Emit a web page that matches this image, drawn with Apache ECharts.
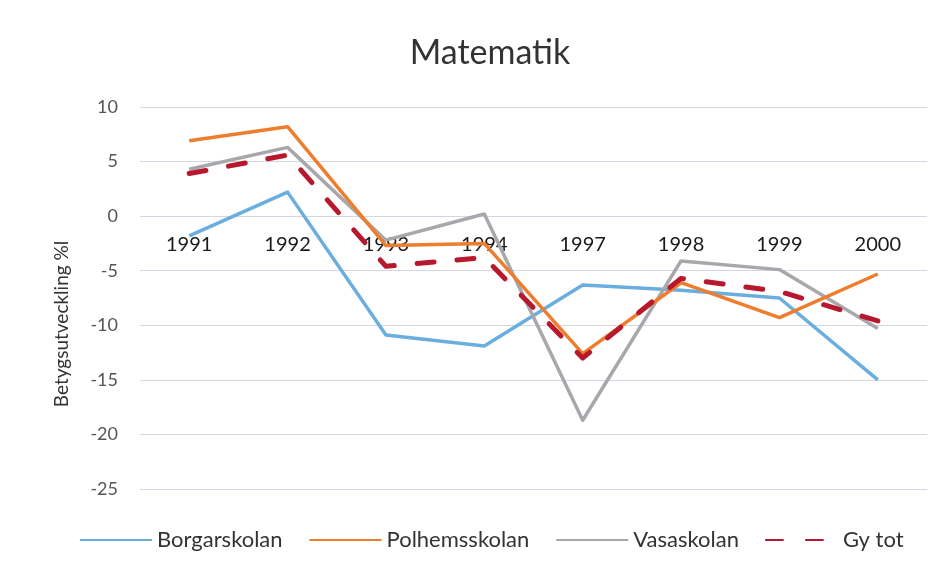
<!DOCTYPE html>
<html>
<head>
<meta charset="utf-8">
<script src="https://cdn.jsdelivr.net/npm/echarts@6/dist/echarts.min.js"></script>
<style>html,body{margin:0;padding:0;background:#fff}#c{width:946px;height:573px}</style>
</head>
<body>
<div id="c"></div>
<script>
var years = ['1991', '1992', '1993', '1994', '1997', '1998', '1999', '2000'];
var borgarskolan = [-1.8, 2.2, -10.9, -11.9, -6.3, -6.8, -7.5, -15.0];
var polhemsskolan = [6.9, 8.2, -2.7, -2.5, -12.6, -6.1, -9.3, -5.3];
var vasaskolan = [4.3, 6.3, -2.2, 0.2, -18.7, -4.1, -4.9, -10.3];
var gyTot = [3.9, 5.6, -4.6, -3.8, -13.0, -5.7, -6.9, -9.6];
var seriesNames = ['Borgarskolan', 'Polhemsskolan', 'Vasaskolan', 'Gy tot'];
var yTicks = { min: -25, max: 10, interval: 5 };

var FONT = 'Lato';
var W = 946, H = 573;
var gridCfg = { left: 140, right: 19, top: 107, bottom: 84 };
var plotH = H - gridCfg.top - gridCfg.bottom;
// x axis sits at value 0, like the Excel chart (axis crosses at 0)
var xAxisOffset = -plotH * (0 - yTicks.min) / (yTicks.max - yTicks.min);

var chart = echarts.init(document.getElementById('c'));
var colors = ['#6aaee0', '#ee7d2e', '#a8a8ac', '#b8182e'];
var data = [borgarskolan, polhemsskolan, vasaskolan, gyTot];
var zs = [3, 4, 3, 6];
var series = seriesNames.map(function (n, i) {
  var dashed = i === 3;
  return {
    name: n,
    type: 'line',
    data: data[i],
    symbol: 'none',
    z: zs[i],
    lineStyle: {
      color: colors[i],
      width: dashed ? 5 : 3.5,
      type: dashed ? [17, 23] : 'solid',
      cap: dashed ? 'round' : 'butt',
      join: 'round'
    },
    itemStyle: { color: colors[i] },
    emphasis: { disabled: true }
  };
});
chart.setOption({
  animation: false,
  backgroundColor: '#ffffff',
  textStyle: { fontFamily: FONT },
  title: {
    text: 'Matematik',
    left: 485, textAlign: 'center',
    top: 31,
    textStyle: { fontFamily: FONT, fontSize: 34, fontWeight: 'normal', color: '#333333' }
  },
  legend: {
    bottom: 17,
    left: 74,
    itemWidth: 72,
    itemHeight: 14,
    itemGap: 26,
    textStyle: { fontFamily: FONT, fontSize: 22, color: '#333333' },
    itemStyle: { opacity: 0 },
    data: seriesNames
  },
  grid: gridCfg,
  xAxis: {
    type: 'category',
    data: years,
    boundaryGap: true,
    position: 'bottom',
    offset: xAxisOffset,
    axisLine: { show: false, onZero: false },
    axisTick: { show: false },
    axisLabel: { fontSize: 20, color: '#1a1a1a', margin: 18, fontFamily: FONT },
    splitLine: { show: false },
    z: 1
  },
  yAxis: {
    type: 'value',
    min: yTicks.min, max: yTicks.max, interval: yTicks.interval,
    name: 'Betygsutveckling %l',
    nameLocation: 'middle',
    nameGap: 69,
    nameTextStyle: { fontSize: 19, color: '#333333', fontFamily: FONT, padding: [0, 52, 0, 0] },
    axisLine: { show: false },
    axisTick: { show: false },
    axisLabel: { fontSize: 18, color: '#555555', margin: 22, fontFamily: FONT },
    splitLine: { lineStyle: { color: '#d6d6e2', width: 1 } }
  },
  series: series
});
</script>
</body>
</html>
